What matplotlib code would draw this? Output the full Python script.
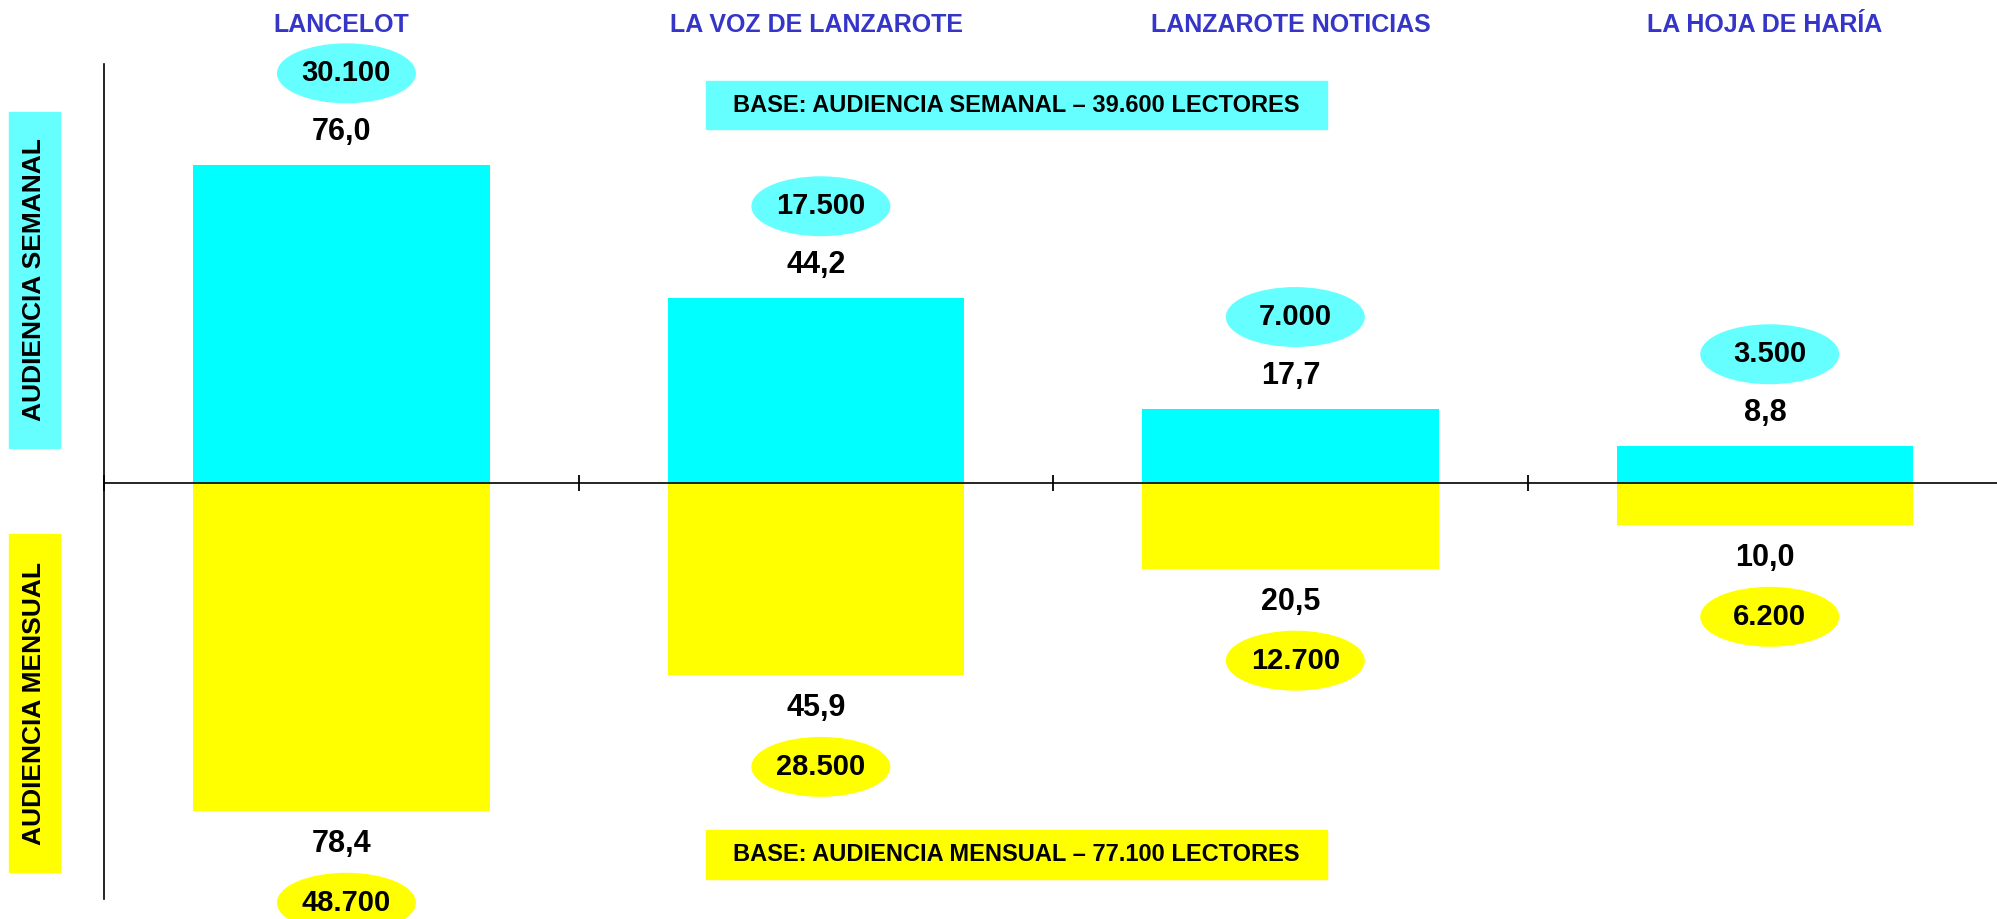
import matplotlib
matplotlib.use("Agg")
import matplotlib.pyplot as plt
from matplotlib.patches import Ellipse, Rectangle
from matplotlib.transforms import blended_transform_factory
import numpy as np

plt.rcParams['font.family'] = ['Liberation Sans', 'DejaVu Sans']
plt.rcParams['font.weight'] = 'bold'

# data
medios = ["LANCELOT", "LA VOZ DE LANZAROTE", "LANZAROTE NOTICIAS", "LA HOJA DE HARÍA"]
semanal_pct = [76.0, 44.2, 17.7, 8.8]
mensual_pct = [78.4, 45.9, 20.5, 10.0]
semanal_lectores = ["30.100", "17.500", "7.000", "3.500"]
mensual_lectores = ["48.700", "28.500", "12.700", "6.200"]
base_semanal = "BASE: AUDIENCIA SEMANAL – 39.600 LECTORES"
base_mensual = "BASE: AUDIENCIA MENSUAL – 77.100 LECTORES"

CYAN = "#00FFFF"
CYAN_LIGHT = "#66FFFF"
YELLOW = "#FFFF00"
BLUE = "#3535C8"

fig = plt.figure(figsize=(19.97, 9.19), dpi=100)
ax = fig.add_axes([0.0523, 0.0218, 0.9477, 0.9089])

x = np.arange(len(medios)) + 0.5
ax.bar(x, semanal_pct, width=0.625, color=CYAN, zorder=2)
ax.bar(x, [-v for v in mensual_pct], width=0.625, color=YELLOW, zorder=2)

ax.set_xlim(0, 3.989)
ax.set_ylim(-99.5, 100.3)

# axis look: left spine plus a zero line with boundary ticks
for s in ["top", "right"]:
    ax.spines[s].set_visible(False)
ax.spines["bottom"].set_position(("data", 0))
ax.spines["bottom"].set_zorder(3)
for s in ["left", "bottom"]:
    ax.spines[s].set_linewidth(1.2)
ax.set_xticks([0, 1, 2, 3])
ax.set_xticklabels([])
ax.tick_params(axis="x", direction="inout", length=11, width=1.3)
ax.set_yticks([])

label_gap = 8
oval_gap = 22
oval_w, oval_h = 0.29, 14

for xi, v, txt in zip(x, semanal_pct, semanal_lectores):
    ax.text(xi, v + label_gap, f"{v:.1f}".replace(".", ","), ha="center", va="center",
            fontsize=22, fontweight="bold")
    ax.add_patch(Ellipse((xi + 0.01, v + oval_gap), oval_w, oval_h, color=CYAN_LIGHT,
                         clip_on=False, zorder=2))
    ax.text(xi + 0.01, v + oval_gap, txt, ha="center", va="center", fontsize=21,
            fontweight="bold", zorder=3)

for xi, v, txt in zip(x, mensual_pct, mensual_lectores):
    ax.text(xi, -v - label_gap, f"{v:.1f}".replace(".", ","), ha="center", va="center",
            fontsize=22, fontweight="bold")
    ax.add_patch(Ellipse((xi + 0.01, -v - oval_gap), oval_w, oval_h, color=YELLOW,
                         clip_on=False, zorder=2))
    ax.text(xi + 0.01, -v - oval_gap, txt, ha="center", va="center", fontsize=21,
            fontweight="bold", zorder=3, clip_on=False)

# headers above each category
trans = blended_transform_factory(ax.transData, fig.transFigure)
for xi, name in zip(x, medios):
    ax.text(xi, 0.9723, name, transform=trans, ha="center", va="center",
            fontsize=18, fontweight="bold", color=BLUE)

# side labels in coloured boxes
fig.patches.append(Rectangle((0.0045, 0.5125), 0.0255, 0.3656, color=CYAN_LIGHT,
                             transform=fig.transFigure, zorder=0))
fig.patches.append(Rectangle((0.0045, 0.0511), 0.0255, 0.3678, color=YELLOW,
                             transform=fig.transFigure, zorder=0))
fig.text(0.0168, 0.6953, "AUDIENCIA SEMANAL", rotation=90, ha="center", va="center",
         fontsize=19, fontweight="bold")
fig.text(0.0168, 0.2345, "AUDIENCIA MENSUAL", rotation=90, ha="center", va="center",
         fontsize=19, fontweight="bold")

# base boxes
fig.patches.append(Rectangle((0.3533, 0.8601), 0.3112, 0.0513, color=CYAN_LIGHT,
                             transform=fig.transFigure, zorder=0))
fig.patches.append(Rectangle((0.3533, 0.0435), 0.3112, 0.0533, color=YELLOW,
                             transform=fig.transFigure, zorder=0))
fig.text(0.5089, 0.8857, base_semanal, ha="center", va="center", fontsize=17,
         fontweight="bold")
fig.text(0.5089, 0.0701, base_mensual, ha="center", va="center", fontsize=17,
         fontweight="bold")

fig.savefig("out.png", dpi=100)
